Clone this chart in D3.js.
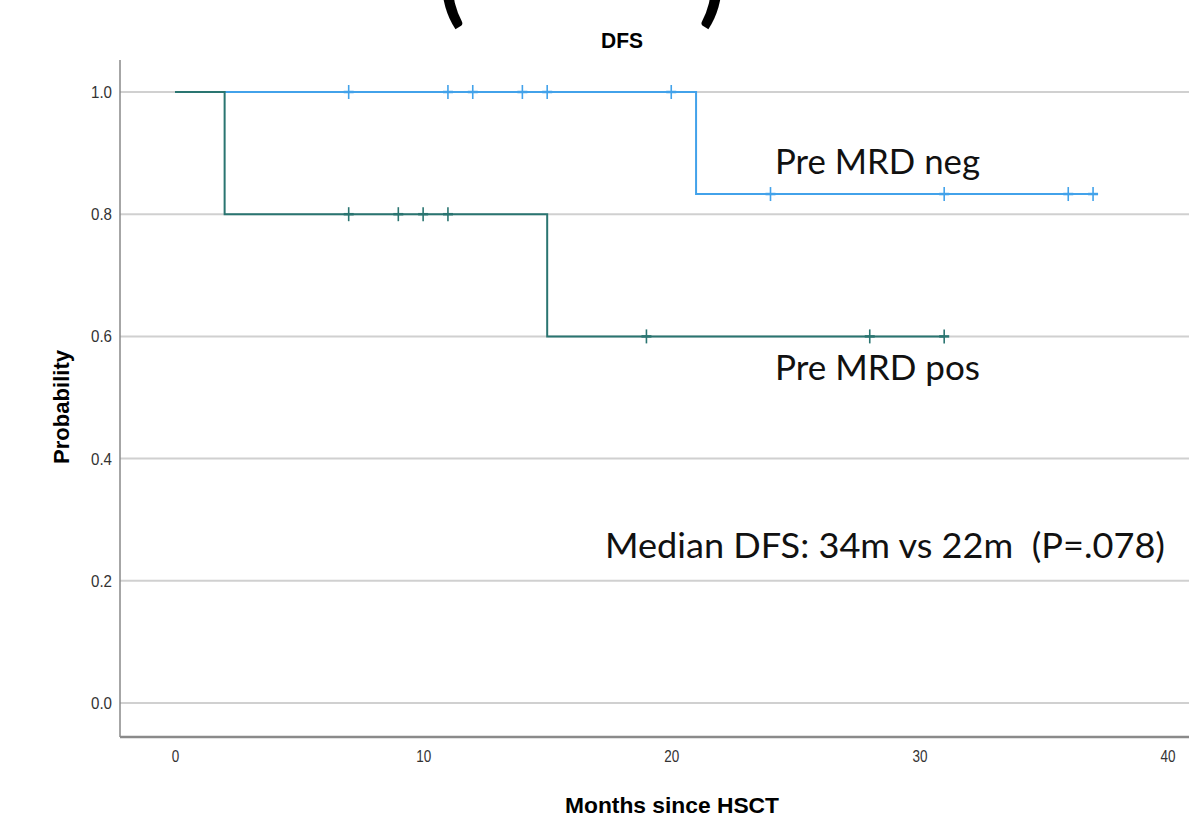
<!DOCTYPE html>
<html>
<head>
<meta charset="utf-8">
<script src="https://cdn.jsdelivr.net/npm/d3@7"></script>
<style>
  html, body { margin: 0; padding: 0; background: #fff; overflow: hidden; }
</style>
</head>
<body>
<div id="chart"></div>
<script>
const width = 1189;
const height = 820;

// survival steps (time in months, probability)
const negTimes = [0, 21, 37];
const negSurv = [1, 0.833, 0.833];
const negCensor = [7, 11, 12, 14, 15, 20, 24, 31, 36, 37];

const posTimes = [0, 2, 15, 31];
const posSurv = [1, 0.8, 0.6, 0.6];
const posCensor = [7, 9, 10, 11, 19, 28, 31];

const xTicks = [0, 10, 20, 30, 40];
const yTicks = [0, 0.2, 0.4, 0.6, 0.8, 1.0];

const spssFont = '"Liberation Sans", Arial, sans-serif';
const annoFont = 'Lato, "Open Sans", sans-serif';

const svg = d3.select('#chart')
  .append('svg')
  .attr('width', width)
  .attr('height', height);

const x = d3.scaleLinear().domain([0, 40]).range([175, 1167.5]);
const y = d3.scaleLinear().domain([0, 1]).range([703, 92]);

const axisLeftX = 120;
const axisBottomY = 737;

// condensed look of the SPSS text: squeeze with textLength
function squeeze(sel, perChar) {
  sel.each(function() {
    const t = d3.select(this);
    const n = t.text().length;
    t.attr('textLength', n * perChar).attr('lengthAdjust', 'spacingAndGlyphs');
  });
}

// clipped heading brackets at the very top
svg.append('text')
  .attr('x', 452).attr('y', 14)
  .attr('text-anchor', 'middle')
  .style('font-family', annoFont)
  .style('font-weight', 'bold')
  .style('font-size', '96px')
  .text('(');
svg.append('text')
  .attr('x', 712).attr('y', 14)
  .attr('text-anchor', 'middle')
  .style('font-family', annoFont)
  .style('font-weight', 'bold')
  .style('font-size', '96px')
  .text(')');

// title
svg.append('text')
  .attr('x', 622).attr('y', 48)
  .attr('text-anchor', 'middle')
  .style('font-family', spssFont)
  .style('font-weight', 'bold')
  .style('font-size', '22px')
  .attr('textLength', 42).attr('lengthAdjust', 'spacingAndGlyphs')
  .text('DFS');

// gridlines
svg.append('g')
  .selectAll('line')
  .data(yTicks)
  .join('line')
  .attr('x1', axisLeftX).attr('x2', width)
  .attr('y1', d => y(d)).attr('y2', d => y(d))
  .attr('stroke', '#d0d0d0')
  .attr('stroke-width', 2);

// y axis
const yAxis = d3.axisLeft(y)
  .tickValues(yTicks)
  .tickFormat(d3.format('.1f'))
  .tickSize(0)
  .tickPadding(8);
const gy = svg.append('g')
  .attr('transform', 'translate(' + axisLeftX + ',0)')
  .call(yAxis);
gy.select('.domain').remove();
gy.selectAll('text')
  .style('font-family', spssFont)
  .style('font-size', '17px')
  .attr('fill', '#333')
  .call(squeeze, 7);

svg.append('line')
  .attr('x1', axisLeftX).attr('x2', axisLeftX)
  .attr('y1', 60).attr('y2', axisBottomY)
  .attr('stroke', '#888')
  .attr('stroke-width', 1.5);

// x axis
const xAxis = d3.axisBottom(x)
  .tickValues(xTicks)
  .tickFormat(d3.format('d'))
  .tickSize(0)
  .tickPadding(13);
const gx = svg.append('g')
  .attr('transform', 'translate(0,' + axisBottomY + ')')
  .call(xAxis);
gx.select('.domain').remove();
gx.selectAll('text')
  .style('font-family', spssFont)
  .style('font-size', '17px')
  .attr('fill', '#333')
  .call(squeeze, 7.5);

svg.append('line')
  .attr('x1', axisLeftX).attr('x2', width)
  .attr('y1', axisBottomY).attr('y2', axisBottomY)
  .attr('stroke', '#8a8a8a')
  .attr('stroke-width', 2.5);

// axis titles
svg.append('text')
  .attr('transform', 'translate(69,' + 407 + ') rotate(-90)')
  .attr('text-anchor', 'middle')
  .style('font-family', spssFont)
  .style('font-weight', 'bold')
  .style('font-size', '22px')
  .attr('textLength', 114).attr('lengthAdjust', 'spacingAndGlyphs')
  .text('Probability');

svg.append('text')
  .attr('x', 672).attr('y', 813)
  .attr('text-anchor', 'middle')
  .style('font-family', spssFont)
  .style('font-weight', 'bold')
  .style('font-size', '22px')
  .attr('textLength', 214).attr('lengthAdjust', 'spacingAndGlyphs')
  .text('Months since HSCT');

// step curves
const line = d3.line()
  .x(d => x(d[0]))
  .y(d => y(d[1]))
  .curve(d3.curveStepAfter);

function survAt(times, surv, t) {
  let s = surv[0];
  times.forEach((tt, i) => { if (tt <= t) s = surv[i]; });
  return s;
}

function drawGroup(times, surv, censor, color) {
  const pts = times.map((t, i) => [t, surv[i]]);
  svg.append('path')
    .datum(pts)
    .attr('d', line)
    .attr('fill', 'none')
    .attr('stroke', color)
    .attr('stroke-width', 2);

  const marks = svg.append('g')
    .selectAll('g')
    .data(censor)
    .join('g')
    .attr('transform', d => 'translate(' + x(d) + ',' + y(survAt(times, surv, d)) + ')');
  marks.append('line')
    .attr('x1', 0).attr('x2', 0)
    .attr('y1', -7).attr('y2', 7)
    .attr('stroke', color)
    .attr('stroke-width', 1.6);
  marks.append('line')
    .attr('x1', -5).attr('x2', 5)
    .attr('y1', 0).attr('y2', 0)
    .attr('stroke', color)
    .attr('stroke-width', 2.5);
}

drawGroup(negTimes, negSurv, negCensor, '#42a2ea');
drawGroup(posTimes, posSurv, posCensor, '#2a7571');

// annotations
svg.append('text')
  .attr('x', 775).attr('y', 174)
  .style('font-family', annoFont)
  .style('font-size', '35px')
  .attr('fill', '#111')
  .attr('textLength', 205).attr('lengthAdjust', 'spacingAndGlyphs')
  .text('Pre MRD neg');

svg.append('text')
  .attr('x', 775).attr('y', 380)
  .style('font-family', annoFont)
  .style('font-size', '35px')
  .attr('fill', '#111')
  .attr('textLength', 205).attr('lengthAdjust', 'spacingAndGlyphs')
  .text('Pre MRD pos');

svg.append('text')
  .attr('x', 605).attr('y', 558)
  .style('font-family', annoFont)
  .style('font-size', '35px')
  .attr('fill', '#111')
  .style('white-space', 'pre')
  .attr('textLength', 560).attr('lengthAdjust', 'spacingAndGlyphs')
  .text('Median DFS: 34m vs 22m  (P=.078)');
</script>
</body>
</html>
